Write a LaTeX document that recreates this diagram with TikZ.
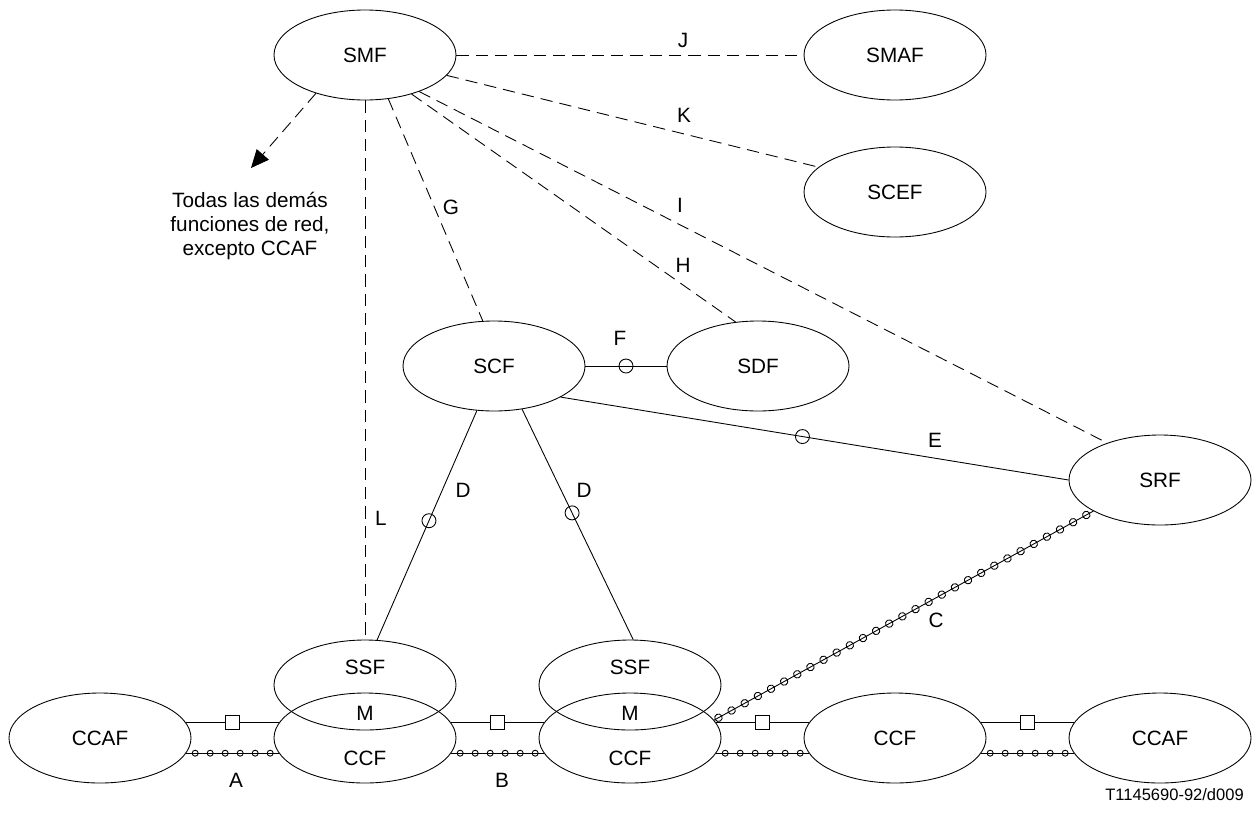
\documentclass[tikz,border=0pt]{standalone}
\usepackage{fontspec}
\setmainfont{Liberation Sans}
\usetikzlibrary{positioning,shapes.geometric,arrows.meta,decorations.markings}

\newcommand{\lift}[2]{\raisebox{#1}[0pt][0pt]{#2}}

\begin{document}
\begin{tikzpicture}[
    line width=0.5pt,
    font=\fontsize{11.8}{13.7}\selectfont,
    fn/.style={ellipse, draw, minimum width=3.64cm, minimum height=1.8cm, inner sep=0pt},
    mgmt/.style={dash pattern=on 7pt off 4pt},
    ring/.style={circle, draw, minimum size=0.28cm, inner sep=0pt},
    sig/.style={rectangle, draw, fill=white, minimum size=0.28cm, inner sep=0pt},
    beads/.style 2 args={postaction={decorate}, decoration={markings,
        mark=between positions #1 and 1 step 0.3cm with {\draw (0,0) circle (#2);}}}
]
    \useasboundingbox (0,0) rectangle (25.04,-16.28);

    % Management functions
    \node[fn] (smf) at (7.3,-1.1) {SMF};
    \node[fn] (smaf) at (17.9,-1.1) {SMAF};
    \node[fn] (scef) at (17.9,-3.84) {SCEF};

    % Service control functions
    \node[fn] (scf) at (9.88,-7.32) {SCF};
    \node[fn] (sdf) at (15.16,-7.32) {SDF};
    \node[fn] (srf) at (23.2,-9.6) {SRF};

    % Switching and call control (SSF over CCF)
    \node[fn] (ssf1) at (7.3,-13.7) {\lift{0.215cm}{SSF}};
    \node[fn] (ssf2) at (12.6,-13.7) {\lift{0.215cm}{SSF}};
    \node[fn] (ccaf1) at (2.0,-14.76) {CCAF};
    \node[fn] (ccf1) at (7.3,-14.76) {\lift{-0.545cm}{CCF}};
    \node[fn] (ccf2) at (12.6,-14.76) {\lift{-0.545cm}{CCF}};
    \node[fn] (ccf3) at (17.9,-14.76) {CCF};
    \node[fn] (ccaf2) at (23.2,-14.76) {CCAF};
    \node (m1) at (7.3,-14.26) {M};
    \node (m2) at (12.6,-14.26) {M};

    % SMF to all others
    \coordinate (others) at (5.02,-3.36);
    \draw[mgmt, -{Triangle[length=0.36cm,width=0.32cm]}] (smf.218) -- (others);
    \node[align=center] (otherstxt) at (5.0,-4.52) {Todas las demás\\funciones de red,\\excepto CCAF};

    % Management relationships (dashed)
    \draw[mgmt] (smf.east) -- (smaf.west);
    \draw[mgmt] (smf.346) -- (scef.162);
    \draw[mgmt] (smf.326) -- (srf.145);
    \draw[mgmt] (smf.320) -- (sdf.117);
    \draw[mgmt] (smf.298) -- (scf.104);
    \draw[mgmt] (smf.south) -- (ssf1.north);

    % Control relationships
    \draw (scf.east) -- node[ring] (rF) {} (sdf.west);
    \draw (scf.335) -- node[ring, pos=0.476] (rE) {} (srf.west);
    \draw (scf.249) -- node[ring, pos=0.48] (rD1) {} (ssf1.75);
    \draw (scf.303) -- node[ring, pos=0.45] (rD2) {} (ssf2.86);
    \draw[beads={0.1cm}{0.075cm}] (ccf2.12) -- (srf.205);

    % Bearer and signalling between call control functions
    \foreach \a/\b/\n in {ccaf1/ccf1/1, ccf1/ccf2/2, ccf2/ccf3/3, ccf3/ccaf2/4} {
        \draw (\a.10) -- node[sig] (sq\n) {} (\b.170);
        \draw[beads={0.18cm}{0.06cm}] (\a.350) -- (\b.190);
    }

    % Relationship labels
    \node (lJ) at (13.66,-0.80) {J};
    \node (lK) at (13.68,-2.30) {K};
    \node (lI) at (13.60,-4.10) {I};
    \node (lH) at (13.66,-5.30) {H};
    \node (lG) at (9.02,-4.14) {G};
    \node (lF) at (12.40,-6.76) {F};
    \node (lE) at (18.70,-8.80) {E};
    \node (lL) at (7.62,-10.36) {L};
    \node (lD1) at (9.26,-9.80) {D};
    \node (lD2) at (11.68,-9.80) {D};
    \node (lC) at (18.72,-12.40) {C};
    \node (lA) at (4.72,-15.60) {A};
    \node (lB) at (10.04,-15.60) {B};

    \node[anchor=east, font=\fontsize{9.4}{11}\selectfont] (code) at (25.0,-15.9) {T1145690-92/d009};
\end{tikzpicture}
\end{document}
